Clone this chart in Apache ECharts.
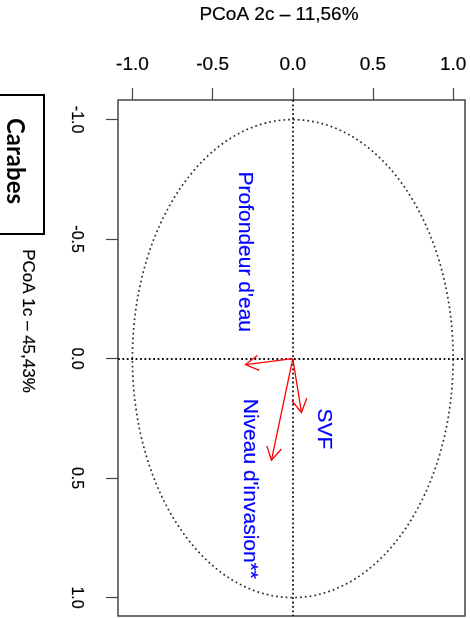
<!DOCTYPE html>
<html><head><meta charset="utf-8">
<script src="https://cdn.jsdelivr.net/npm/echarts@6/dist/echarts.min.js"></script>
<style>html,body{margin:0;padding:0;background:#fff}#chart{width:470px;height:618px}</style>
</head><body><div id="chart"></div>
<script>
// Environmental variables fitted on the Carabes ordination (correlation arrows)
const variables = ["Profondeur d'eau", 'SVF', "Niveau d'invasion**"];
const axis2Scores = [-0.295, 0.054, -0.133];   // PCoA 2c, horizontal
const axis1Scores = [0.025, 0.225, 0.425];     // PCoA 1c, vertical (downwards)
const tickValues = [-1.0, -0.5, 0.0, 0.5, 1.0];
const circleRadius = [1];                      // unit correlation circle

// where each variable name is written (data units)
const nameAnchorX = [-0.302, 0.196, -0.265];
const nameAnchorY = [-0.447, 0.294, 0.545];

const FONT = 'Liberation Sans, Arial, sans-serif';
const chart = echarts.init(document.getElementById('chart'), null, {renderer: 'canvas'});

const arrowData = variables.map((v, i) => [axis2Scores[i], axis1Scores[i], v]);
const nameData = variables.map((v, i) => [nameAnchorX[i], nameAnchorY[i], v]);

chart.setOption({
  animation: false,
  backgroundColor: '#fff',
  grid: {left: 118, top: 100, width: 347, height: 516, show: true,
         borderColor: '#444', borderWidth: 1.5, backgroundColor: '#fff'},
  xAxis: {
    type: 'value', position: 'top', min: -1.09, max: 1.074,
    splitLine: {show: false}, axisLine: {show: false, onZero: false},
    axisTick: {show: true, customValues: tickValues, length: 12, inside: false,
               lineStyle: {color: '#444', width: 1.2}},
    axisLabel: {customValues: tickValues, margin: 26, fontFamily: FONT, fontSize: 19,
                color: '#000', textBorderColor: '#000', textBorderWidth: 0.2,
                formatter: v => v.toFixed(1)}
  },
  yAxis: {
    type: 'value', inverse: true, min: -1.082, max: 1.077,
    splitLine: {show: false}, axisLine: {show: false, onZero: false},
    axisTick: {show: true, customValues: tickValues, length: 12,
               lineStyle: {color: '#444', width: 1.2}},
    axisLabel: {customValues: tickValues, margin: 34, rotate: -90, fontFamily: FONT,
                fontSize: 16, color: '#000', textBorderColor: '#000', textBorderWidth: 0.2,
                formatter: v => v.toFixed(1)}
  },
  graphic: [
    {type: 'text', x: 279, y: 15, style: {text: 'PCoA 2c – 11,56%', font: '19px ' + FONT,
      fill: '#000', stroke: '#000', lineWidth: 0.2, align: 'center', verticalAlign: 'middle'}},
    {type: 'text', x: 28, y: 321, rotation: -Math.PI / 2,
      style: {text: 'PCoA 1c – 45,43%', font: '17px ' + FONT, fill: '#000', stroke: '#000',
      lineWidth: 0.2, align: 'center', verticalAlign: 'middle'}},
    {type: 'rect', shape: {x: -3, y: 95, width: 47, height: 139},
      style: {fill: '#fff', stroke: '#000', lineWidth: 2}},
    {type: 'text', x: 15, y: 161, rotation: -Math.PI / 2,
      style: {text: 'Carabes', font: 'bold 24px Lato, "Open Sans", sans-serif', fill: '#000',
      align: 'center', verticalAlign: 'middle'}}
  ],
  series: [
    {
      // unit correlation circle
      type: 'custom', coordinateSystem: 'cartesian2d', silent: true, z: 2,
      data: circleRadius.map(r => [0, 0, r]),
      renderItem(params, api) {
        const r = api.value(2);
        const c = api.coord([api.value(0), api.value(1)]);
        const e = api.coord([r, r]);
        return {type: 'ellipse', shape: {cx: c[0], cy: c[1], rx: Math.abs(e[0] - c[0]), ry: Math.abs(e[1] - c[1])},
                style: {fill: null, stroke: '#333', lineWidth: 1.7, lineDash: [1.8, 3]}};
      }
    },
    {
      // axes through the origin
      type: 'line', data: [], silent: true,
      markLine: {symbol: 'none', silent: true, label: {show: false},
        lineStyle: {color: '#111', width: 1.8, type: [1.8, 2.6]},
        emphasis: {disabled: true},
        data: [{xAxis: 0}, {yAxis: 0}]}
    },
    {
      // variable arrows from the origin
      type: 'custom', coordinateSystem: 'cartesian2d', silent: true, z: 5,
      data: arrowData,
      renderItem(params, api) {
        const o = api.coord([0, 0]);
        const t = api.coord([api.value(0), api.value(1)]);
        const ang = Math.atan2(t[1] - o[1], t[0] - o[0]);
        const L = 15, a = Math.PI / 6;
        const p1 = [t[0] - L * Math.cos(ang - a), t[1] - L * Math.sin(ang - a)];
        const p2 = [t[0] - L * Math.cos(ang + a), t[1] - L * Math.sin(ang + a)];
        return {type: 'group', children: [
          {type: 'line', shape: {x1: o[0], y1: o[1], x2: t[0], y2: t[1]},
           style: {stroke: '#ff0000', lineWidth: 1.3}},
          {type: 'polyline', shape: {points: [p1, t, p2]},
           style: {stroke: '#ff0000', lineWidth: 1.3, fill: null}}
        ]};
      }
    },
    {
      // variable names
      type: 'scatter', symbolSize: 0, silent: true, z: 6,
      data: nameData, itemStyle: {opacity: 1},
      label: {show: true, position: 'inside', rotate: -90, fontFamily: FONT, fontSize: 21,
              color: '#0000ff', textBorderColor: '#0000ff', textBorderWidth: 0.2,
              formatter: p => p.value[2]}
    }
  ]
});
</script></body></html>
